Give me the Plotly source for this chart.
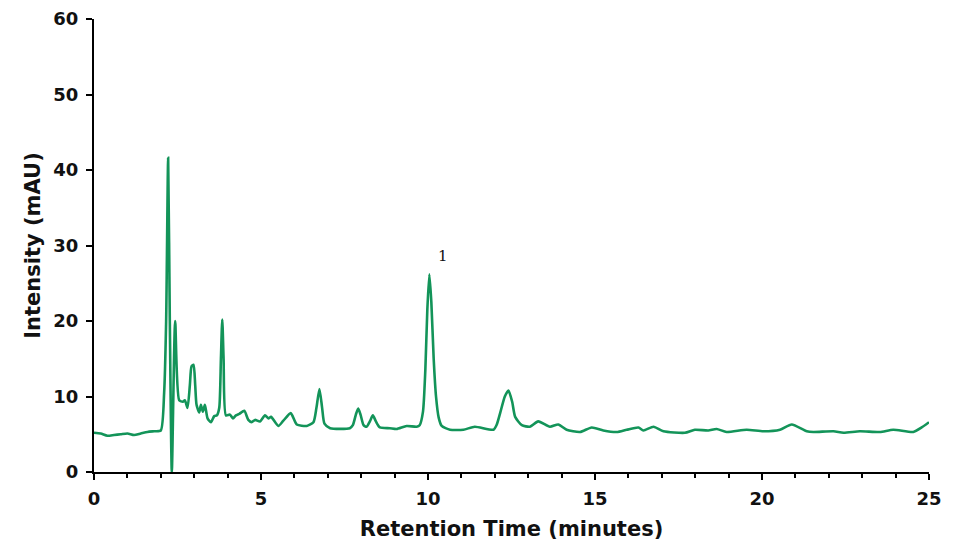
import plotly.graph_objects as go

# Cromatograma
tempo = [0.0, 0.2, 0.4, 0.6, 0.8, 1.0, 1.2, 1.4, 1.6, 1.8, 2.0, 2.1, 2.16, 2.22, 2.27, 2.33,
         2.43, 2.55, 2.66, 2.72, 2.8, 2.87, 2.92, 2.98, 3.03, 3.07, 3.15, 3.2, 3.26, 3.32,
         3.4, 3.5, 3.6, 3.68, 3.75, 3.8, 3.84, 3.88, 3.95, 4.07, 4.16, 4.25, 4.35, 4.5,
         4.62, 4.72, 4.82, 4.97, 5.12, 5.22, 5.3, 5.52, 5.67, 5.89, 6.07, 6.37, 6.57, 6.66,
         6.75, 6.83, 6.9, 7.07, 7.66, 7.75, 7.84, 7.91, 7.98, 8.07, 8.16, 8.27, 8.35, 8.44,
         8.56, 8.86, 9.06, 9.36, 9.66, 9.75, 9.85, 9.92, 9.98, 10.04, 10.1, 10.17, 10.24,
         10.32, 10.41, 10.66, 11.06, 11.4, 11.96, 12.06, 12.16, 12.3, 12.41, 12.52, 12.61,
         12.81, 13.05, 13.3, 13.65, 13.9, 14.15, 14.55, 14.9, 15.25, 15.65, 15.95, 16.3,
         16.45, 16.75, 17.05, 17.69, 17.99, 18.39, 18.64, 18.94, 19.54, 20.04, 20.54, 20.89,
         21.34, 21.54, 22.14, 22.44, 22.93, 23.53, 23.93, 24.53, 24.78, 25.0]
intensidade = [5.2, 5.1, 4.8, 4.9, 5.0, 5.1, 4.9, 5.1, 5.3, 5.4, 5.5, 10.5, 20.0, 41.6, 20.0, 0.0,
               20.0, 9.5, 9.3, 9.5, 8.5, 11.5, 14.0, 14.2, 11.5, 8.9, 7.9, 8.9, 8.0, 8.9,
               7.1, 6.6, 7.4, 7.5, 8.5, 15.0, 20.2, 15.0, 7.5, 7.6, 7.1, 7.5, 7.7, 8.1,
               6.9, 6.6, 6.9, 6.7, 7.5, 7.1, 7.3, 6.1, 6.8, 7.8, 6.3, 6.1, 6.6, 8.5,
               11.0, 8.5, 6.4, 5.8, 5.8, 6.2, 7.6, 8.4, 7.6, 6.2, 6.0, 6.8, 7.5, 6.7,
               5.9, 5.8, 5.7, 6.1, 6.0, 6.2, 8.0, 13.5, 21.5, 26.2, 22.5, 15.0, 10.0,
               7.2, 6.1, 5.6, 5.6, 6.0, 5.6, 6.3, 7.8, 10.0, 10.8, 9.3, 7.3,
               6.2, 6.0, 6.7, 6.0, 6.3, 5.6, 5.3, 5.9, 5.5, 5.3, 5.6, 5.9,
               5.5, 6.0, 5.4, 5.2, 5.6, 5.5, 5.7, 5.3, 5.6, 5.4, 5.6, 6.3,
               5.4, 5.3, 5.4, 5.2, 5.4, 5.3, 5.6, 5.3, 5.9, 6.6]

fonte = dict(family="DejaVu Sans", color="#111111")

fig = go.Figure()
fig.add_trace(go.Scatter(x=tempo, y=intensidade, mode="lines",
                         line=dict(color="#139459", width=2.6, shape="spline", smoothing=0.6),
                         showlegend=False))

# rótulo do pico 1
fig.add_annotation(x=10.45, y=28.6, text="1", showarrow=False,
                   font=dict(family="DejaVu Serif", size=15, color="#111111"))

fig.update_layout(
    width=944, height=543,
    margin=dict(l=86, r=23, t=11, b=79),
    plot_bgcolor="white", paper_bgcolor="white",
    font=fonte,
)
fig.update_xaxes(range=[0, 25], tickvals=[0, 5, 10, 15, 20, 25], ticks="outside",
                 ticklen=6, tickwidth=1.5, tickcolor="black", showline=True,
                 linecolor="black", linewidth=2, showgrid=False, zeroline=False,
                 automargin=False, ticklabelstandoff=3,
                 minor=dict(dtick=1, ticks="outside", ticklen=4, tickcolor="black", tickwidth=1.5),
                 tickfont=dict(family="DejaVu Sans", size=18, weight="bold"),
                 title=dict(text="<b>Retention Time (minutes)</b>", standoff=14,
                            font=dict(family="DejaVu Sans", size=21)))
fig.update_yaxes(range=[0, 60], tickvals=[0, 10, 20, 30, 40, 50, 60], ticks="outside",
                 ticklen=6, tickwidth=1.5, tickcolor="black", showline=True,
                 linecolor="black", linewidth=2, showgrid=False, zeroline=False,
                 automargin=False, ticklabelstandoff=4,
                 tickfont=dict(family="DejaVu Sans", size=18, weight="bold"),
                 title=dict(text="<b>Intensity (mAU)</b>", standoff=7,
                            font=dict(family="DejaVu Sans", size=21)))

fig.write_html("out.html")
